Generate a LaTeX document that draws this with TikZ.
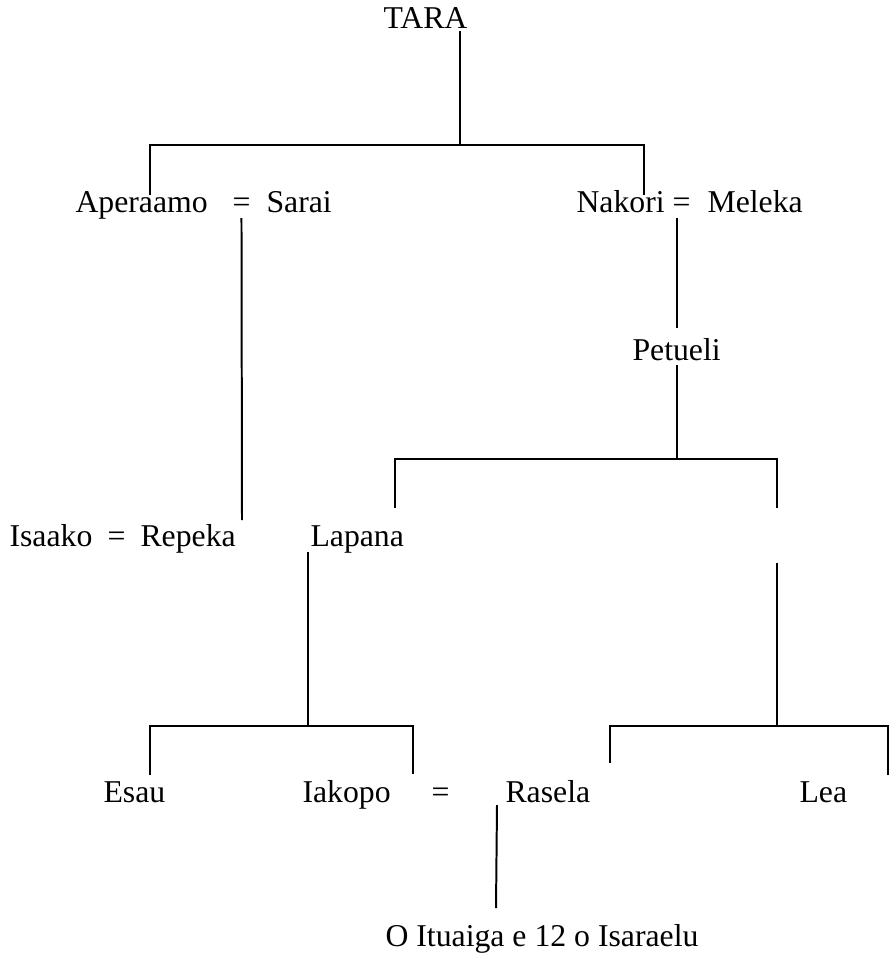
\documentclass[tikz,border=0pt]{standalone}
\usepackage{fontspec}
\setmainfont{Liberation Serif}
\usepackage{tikz}
\tikzset{person/.style={anchor=base west,inner sep=0pt,font=\fontsize{12}{14}\selectfont},
         kin/.style={black,line width=0.75pt}}

\begin{document}
\begin{tikzpicture}[x=0.378pt,y=-0.378pt]
\useasboundingbox (0,0) rectangle (893,957);
% names, by row
\node[person] (tara) at (383,29) {TARA};
\node[person] (aperaamo) at (75,212) {Aperaamo};
\node[person] (eqa) at (232,212) {=};
\node[person] (sarai) at (266,212) {Sarai};
\node[person] (nakori) at (576,212) {Nakori};
\node[person] (eqb) at (672,212) {=};
\node[person] (meleka) at (707,212) {Meleka};
\node[person] (petueli) at (632,360) {Petueli};
\node[person] (isaako) at (9,546) {Isaako};
\node[person] (eqc) at (107,546) {=};
\node[person] (repeka) at (140,546) {Repeka};
\node[person] (lapana) at (310,546) {Lapana};
\node[person] (esau) at (103,802) {Esau};
\node[person] (iakopo) at (302,802) {Iakopo};
\node[person] (eqd) at (431,802) {=};
\node[person] (rasela) at (505,802) {Rasela};
\node[person] (lea) at (799,802) {Lea};
\node[person] (isaraelu) at (385,946) {O Ituaiga e 12 o Isaraelu};
% joints of the tree
\coordinate (taradown) at (460,31);
\coordinate (barA) at (460,145);
\coordinate (aperaamoup) at (150,195);
\coordinate (nakoriup) at (644,195);
\coordinate (saraidown) at (242,520);
\coordinate (meleka1) at (677,218);
\coordinate (meleka2) at (677,328);
\coordinate (petueli1) at (677,365);
\coordinate (barB) at (677,459);
\coordinate (lapanaup) at (395,508);
\coordinate (rightup) at (777,508);
\coordinate (right1) at (777,563);
\coordinate (barD) at (777,726);
\coordinate (lapanadown) at (308,552);
\coordinate (barC) at (308,726);
\coordinate (esauup) at (150,775);
\coordinate (iakopoup) at (413,774);
\coordinate (raselaup) at (610,763);
\coordinate (leaup) at (888,775);
\coordinate (raseladown) at (497,805);
\coordinate (isaraeluup) at (496,908);

\draw[kin] (taradown) -- (barA);
\draw[kin] (aperaamoup) |- (barA) -| (nakoriup);
\draw[kin] (eqa |- 0,218) -- (saraidown);
\draw[kin] (meleka1) -- (meleka2);
\draw[kin] (petueli1) -- (barB);
\draw[kin] (lapanaup) |- (barB) -| (rightup);
\draw[kin] (right1) -- (barD);
\draw[kin] (lapanadown) -- (barC);
\draw[kin] (esauup) |- (barC) -| (iakopoup);
\draw[kin] (raselaup) |- (barD) -| (leaup);
\draw[kin] (raseladown) -- (isaraeluup);
\end{tikzpicture}
\end{document}
